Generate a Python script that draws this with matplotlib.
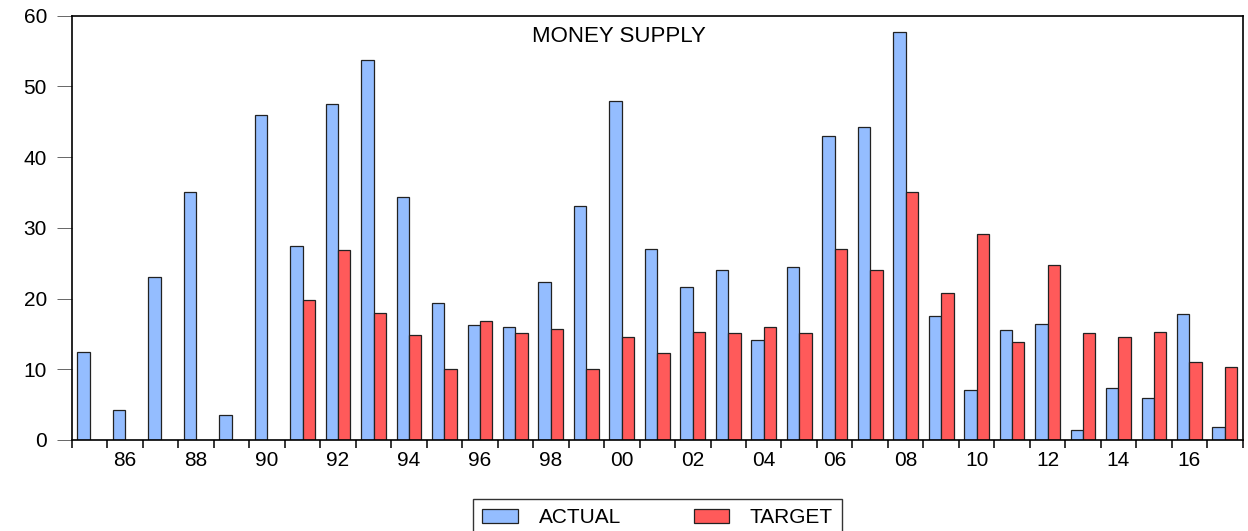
#!/usr/bin/env python3
"""Money supply: actual growth vs target, yearly bars."""

import matplotlib
matplotlib.use("Agg")
import matplotlib.pyplot as plt
import numpy as np
from matplotlib.ticker import FixedLocator, NullFormatter

years = list(range(1985, 2018))
actual = [12.5, 4.3, 23.0, 35.0, 3.6, 45.9, 27.4, 47.5, 53.7, 34.4,
          19.4, 16.2, 16.0, 22.3, 33.1, 48.0, 27.0, 21.6, 24.1, 14.1,
          24.4, 43.0, 44.2, 57.7, 17.6, 7.0, 15.5, 16.4, 1.4, 7.3,
          6.0, 17.8, 1.8]
target = [None, None, None, None, None, None, 19.8, 26.8, 18.0, 14.8,
          10.1, 16.8, 15.1, 15.7, 10.0, 14.6, 12.3, 15.3, 15.1, 16.0,
          15.1, 27.0, 24.1, 35.0, 20.8, 29.2, 13.8, 24.7, 15.2, 14.6,
          15.3, 11.0, 10.3]
label_years = list(range(1986, 2018, 2))

BLUE = "#94BDFF"
RED = "#FF5A5A"

plt.rcParams["font.family"] = ["Liberation Sans", "DejaVu Sans"]

fig = plt.figure(figsize=(12.48, 5.31), dpi=100)
ax = fig.add_axes([0.0577, 0.1714, 0.938, 0.7990])

x = np.array(years, dtype=float)
w = 0.35
t_years = [y for y, v in zip(years, target) if v is not None]
t_vals = [v for v in target if v is not None]

ax.bar(x - w / 2, actual, width=w, color=BLUE, edgecolor="#222222",
       linewidth=0.9, label="ACTUAL")
ax.bar(np.array(t_years) + w / 2, t_vals, width=w, color=RED,
       edgecolor="#222222", linewidth=0.9, label="TARGET")

ax.set_xlim(years[0] - 0.5, years[-1] + 0.5)
ax.set_ylim(0, 60)
ax.set_yticks(range(0, 61, 10))

# year boundaries get tick marks, even years get centred labels
ax.xaxis.set_major_locator(FixedLocator([y - 0.5 for y in years] + [years[-1] + 0.5]))
ax.xaxis.set_major_formatter(NullFormatter())
ax.xaxis.set_minor_locator(FixedLocator(label_years))
ax.set_xticklabels([f"{y % 100:02d}" for y in label_years], minor=True)
ax.tick_params(axis="x", which="major", direction="out", length=6,
               width=1.1, color="black")
ax.tick_params(axis="x", which="minor", length=0, pad=8, labelsize=15)
ax.tick_params(axis="y", direction="out", length=11, width=0.7,
               color="#666666", pad=7, labelsize=15)

for s in ax.spines.values():
    s.set_linewidth(1.2)
    s.set_color("black")

ax.text(0.467, 0.952, "MONEY SUPPLY", transform=ax.transAxes,
        ha="center", va="center", fontsize=16)

# legend box runs off the bottom edge like in the source picture
fig.legend(loc="upper center", bbox_to_anchor=(0.527, 0.0603), ncol=2,
           fontsize=15, frameon=True, fancybox=False, edgecolor="black",
           handlelength=1.7, handleheight=0.7, handletextpad=1.0,
           columnspacing=3.5, borderpad=0.45, borderaxespad=0)

fig.savefig("out.png", dpi=100)
